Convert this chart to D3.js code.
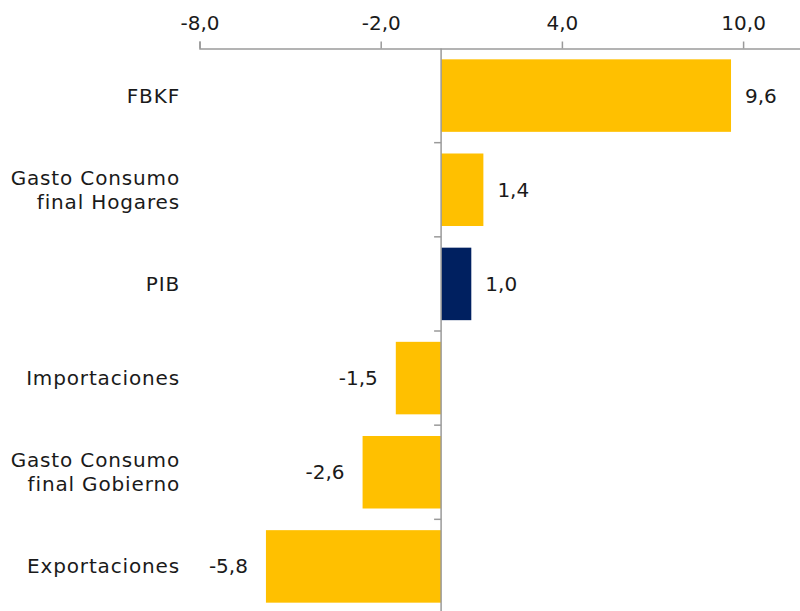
<!DOCTYPE html>
<html>
<head>
<meta charset="utf-8">
<script src="https://cdn.jsdelivr.net/npm/d3@7"></script>
<style>
  body { margin: 0; background: #fff; }
  text { font-family: "DejaVu Sans", sans-serif; fill: #1a1a1a; }
</style>
</head>
<body>
<div id="chart"></div>
<script>
//Categories and values (contribution, %)
let categories = [
  ["FBKF"],
  ["Gasto Consumo", "final Hogares"],
  ["PIB"],
  ["Importaciones"],
  ["Gasto Consumo", "final Gobierno"],
  ["Exportaciones"]
];
let values = [9.6, 1.4, 1.0, -1.5, -2.6, -5.8];
let highlight = ["PIB"];
let tickValues = [-8, -2, 4, 10];

let width = 800, height = 611;
let fmt = d3.format(".1f");
let comma = function (v) { return fmt(v).replace(".", ",").replace("\u2212", "-"); };

let svg = d3.select("#chart").append("svg")
  .attr("width", width)
  .attr("height", height);

//x scale, zero sits around 441px
let xScale = d3.scaleLinear().domain([-8, 12]).range([199.5, 803.5]);
//one band per category
let keys = categories.map(function (c) { return c.join(" "); });
let yScale = d3.scaleBand().domain(keys).range([48.5, 613.5]).padding(0);
let step = yScale.step();
let barPad = 0.115;

//Top axis
let xAxis = svg.append("g")
  .attr("transform", "translate(0,48.5)")
  .call(d3.axisTop(xScale).tickValues(tickValues).tickSize(7).tickPadding(12).tickFormat(comma));
xAxis.select(".domain").attr("stroke", "#9a9a9a").attr("stroke-width", 1.5);
xAxis.selectAll(".tick line").attr("stroke", "#9a9a9a").attr("stroke-width", 1.5);
xAxis.selectAll(".tick text")
  .style("font-size", "20px")
  .style("font-family", "'DejaVu Sans', sans-serif")
  .attr("fill", "#1a1a1a");

//Bars
svg.append("g").selectAll("rect")
  .data(values)
  .enter()
  .append("rect")
  .attr("x", function (d) { return xScale(Math.min(0, d)); })
  .attr("y", function (d, i) { return yScale(keys[i]) + step * barPad; })
  .attr("width", function (d) { return Math.abs(xScale(d) - xScale(0)); })
  .attr("height", step * (1 - 2 * barPad))
  .attr("fill", function (d, i) {
    return highlight.indexOf(keys[i]) >= 0 ? "#002060" : "#FFC000";
  });

//Vertical zero axis with ticks at band boundaries
let x0 = xScale(0);
svg.append("line")
  .attr("x1", x0).attr("x2", x0)
  .attr("y1", 48.5).attr("y2", height)
  .attr("stroke", "#9a9a9a").attr("stroke-width", 1.5);
svg.append("g").selectAll("line")
  .data(keys.slice(1))
  .enter()
  .append("line")
  .attr("x1", x0 - 7).attr("x2", x0)
  .attr("y1", function (d) { return yScale(d); })
  .attr("y2", function (d) { return yScale(d); })
  .attr("stroke", "#9a9a9a").attr("stroke-width", 1.5);

//Category labels
let labels = svg.append("g").selectAll("text")
  .data(categories)
  .enter()
  .append("text")
  .attr("text-anchor", "end")
  .style("font-size", "20px")
  .style("letter-spacing", "0.85px")
  .attr("y", function (d, i) { return yScale(keys[i]) + step / 2; });
labels.selectAll("tspan")
  .data(function (d) { return d; })
  .enter()
  .append("tspan")
  .attr("x", 180)
  .attr("dy", function (d, j, nodes) {
    let n = nodes.length;
    return j === 0 ? (0.35 - (n - 1) * 0.6) + "em" : "1.2em";
  })
  .text(String);

//Value labels
svg.append("g").selectAll("text")
  .data(values)
  .enter()
  .append("text")
  .style("font-size", "20px")
  .attr("text-anchor", function (d) { return d < 0 ? "end" : "start"; })
  .attr("x", function (d) { return d < 0 ? xScale(d) - 18 : xScale(d) + 14; })
  .attr("y", function (d, i) { return yScale(keys[i]) + step / 2; })
  .attr("dy", "0.35em")
  .text(comma);
</script>
</body>
</html>
